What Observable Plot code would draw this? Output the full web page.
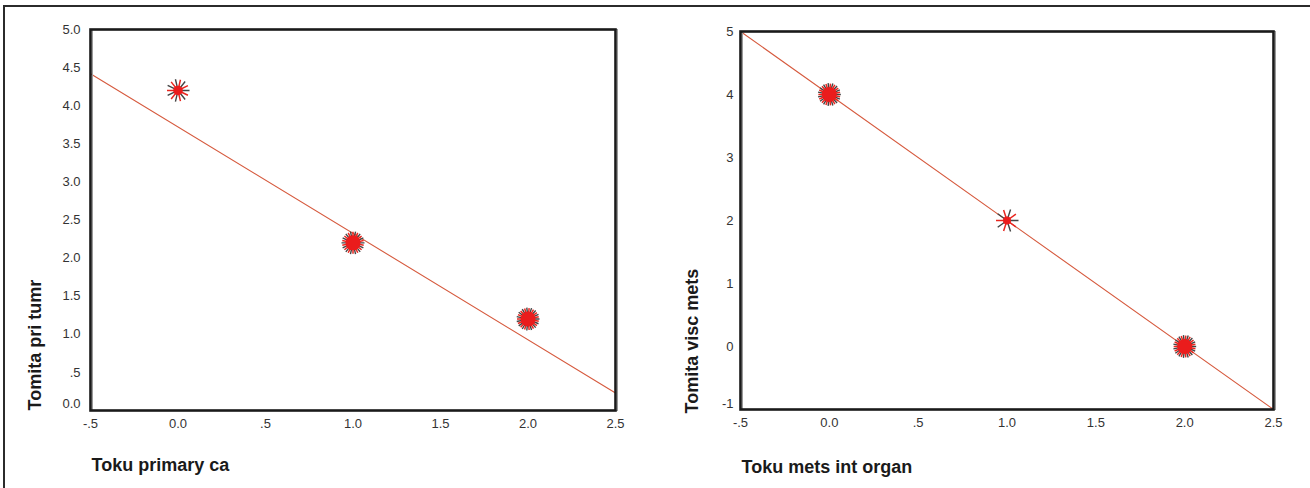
<!DOCTYPE html>
<html>
<head>
<meta charset="utf-8">
<script src="https://cdn.jsdelivr.net/npm/d3@7"></script>
<script src="https://cdn.jsdelivr.net/npm/@observablehq/plot@0.6"></script>
<style>
  html, body { margin: 0; padding: 0; background: #fff; }
  #root { position: relative; width: 1310px; height: 488px; overflow: hidden; background: #fff; }
  #root .pane { position: absolute; top: 0; }
  #outer-top { position: absolute; left: 4px; top: 5px; width: 1306px; height: 0; border-top: 2px solid #2b2b2b; }
  #outer-left { position: absolute; left: 3px; top: 5px; width: 0; height: 483px; border-left: 2px solid #2b2b2b; }
</style>
</head>
<body>
<div id="root">
  <div id="outer-top"></div>
  <div id="outer-left"></div>
  <div class="pane" id="left" style="left:0px"></div>
  <div class="pane" id="right" style="left:655px"></div>
</div>
<script>
// ---------- data ----------
const xTicks = [-0.5, 0, 0.5, 1, 1.5, 2, 2.5];
const xTickLabels = ["-.5", "0.0", ".5", "1.0", "1.5", "2.0", "2.5"];

const leftYTicks = [0, 0.5, 1, 1.5, 2, 2.5, 3, 3.5, 4, 4.5, 5];
const leftYTickLabels = ["0.0", ".5", "1.0", "1.5", "2.0", "2.5", "3.0", "3.5", "4.0", "4.5", "5.0"];
const rightYTicks = [-1, 0, 1, 2, 3, 4, 5];
const rightYTickLabels = ["-1", "0", "1", "2", "3", "4", "5"];

// sunflower points (x, y, number of cases)
const leftX = [0, 1, 2];
const leftY = [4.2, 2.2, 1.2];
const leftN = [14, 28, 30];
const rightX = [0, 1, 2];
const rightY = [4, 2, 0];
const rightN = [30, 10, 30];

// fitted lines
const leftFitX = [-0.5, 2.5];
const leftFitY = [4.42, 0.23];
const rightFitX = [-0.5, 2.5];
const rightFitY = [5, -1];

const leftXTitle = "Toku primary ca";
const leftYTitle = "Tomita pri tumr";
const rightXTitle = "Toku mets int organ";
const rightYTitle = "Tomita visc mets";

// ---------- helpers ----------
function petalSymbol(n, offset) {
  return {
    draw(ctx, size) {
      const r = Math.sqrt(size / Math.PI);
      for (let i = 0; i < n; i++) {
        const a = 2 * Math.PI * (i + offset) / n;
        ctx.moveTo(0, 0);
        ctx.lineTo(r * Math.cos(a), r * Math.sin(a));
      }
    }
  };
}

function sunflowers(xs, ys, ns) {
  const pts = xs.map((x, i) => ({x, y: ys[i], n: ns[i]}));
  const marks = [];
  for (const p of pts) {
    const half = Math.max(4, Math.round(p.n / 2));
    marks.push(Plot.dot([p], {x: "x", y: "y", r: 11.5, symbol: petalSymbol(half, 0), fill: "none", stroke: "#444", strokeWidth: 1.4}));
    marks.push(Plot.dot([p], {x: "x", y: "y", r: 11, symbol: petalSymbol(half, 0.5), fill: "none", stroke: "#e8261f", strokeWidth: 1.5}));
    marks.push(Plot.dot([p], {x: "x", y: "y", r: Math.min(7.5, 2 + p.n / 5), fill: "#ea1c1c", stroke: "none"}));
  }
  return marks;
}

function chart({marginLeft, marginRight, marginTop, marginBottom, yDomain, yTicks, yTickLabels,
                fitX, fitY, px, py, pn, xTitle, yTitle, yTitleDx, yTitleDy, xTitleDy, yTickPadding, bottomLift}) {
  const xFmt = new Map(xTicks.map((v, i) => [v, xTickLabels[i]]));
  const yFmt = new Map(yTicks.map((v, i) => [v, yTickLabels[i]]));
  const fit = fitX.map((x, i) => ({x, y: fitY[i]}));
  const yMin = yDomain[0];
  const axisStyle = {tickSize: 0, label: null, fill: "#333", fontSize: 13};
  return Plot.plot({
    width: 655,
    height: 488,
    marginLeft, marginRight, marginTop, marginBottom,
    x: {domain: [-0.5, 2.5]},
    y: {domain: yDomain},
    style: {fontFamily: "'Liberation Sans', Arial, sans-serif", fontSize: "13px", color: "#333", background: "transparent", overflow: "visible"},
    marks: [
      Plot.axisX({...axisStyle, ticks: xTicks, tickFormat: d => xFmt.get(d), tickPadding: 8}),
      Plot.axisY({...axisStyle, ticks: yTicks.filter(v => v !== yMin), tickFormat: d => yFmt.get(d), tickPadding: yTickPadding}),
      Plot.axisY({...axisStyle, ticks: [yMin], tickFormat: d => yFmt.get(d), tickPadding: yTickPadding, dy: -bottomLift}),
      Plot.line(fit, {x: "x", y: "y", stroke: "#d65a3e", strokeWidth: 1.1}),
      ...sunflowers(px, py, pn),
      Plot.frame({stroke: "#9a9a9a", strokeWidth: 1, dx: 2, dy: 0}),
      Plot.frame({stroke: "#1a1a1a", strokeWidth: 2.6}),
      Plot.text([xTitle], {frameAnchor: "bottom-left", textAnchor: "start", dx: 1, dy: xTitleDy, fontSize: 18, fontWeight: "bold", fill: "#1a1a1a"}),
      Plot.text([yTitle], {frameAnchor: "bottom-left", textAnchor: "start", rotate: -90, dx: yTitleDx, dy: yTitleDy, fontSize: 18, fontWeight: "bold", fill: "#1a1a1a"})
    ]
  });
}

document.getElementById("left").appendChild(chart({
  marginLeft: 90, marginRight: 40, marginTop: 29, marginBottom: 78,
  yDomain: [0, 5], yTicks: leftYTicks, yTickLabels: leftYTickLabels,
  fitX: leftFitX, fitY: leftFitY, px: leftX, py: leftY, pn: leftN,
  xTitle: leftXTitle, yTitle: leftYTitle, yTitleDx: -50, yTitleDy: 0, xTitleDy: 60, yTickPadding: 10, bottomLift: 7
}));

document.getElementById("right").appendChild(chart({
  marginLeft: 85, marginRight: 37, marginTop: 31, marginBottom: 79,
  yDomain: [-1, 5], yTicks: rightYTicks, yTickLabels: rightYTickLabels,
  fitX: rightFitX, fitY: rightFitY, px: rightX, py: rightY, pn: rightN,
  xTitle: rightXTitle, yTitle: rightYTitle, yTitleDx: -43, yTitleDy: 4, xTitleDy: 63, yTickPadding: 7, bottomLift: 6
}));
</script>
</body>
</html>
